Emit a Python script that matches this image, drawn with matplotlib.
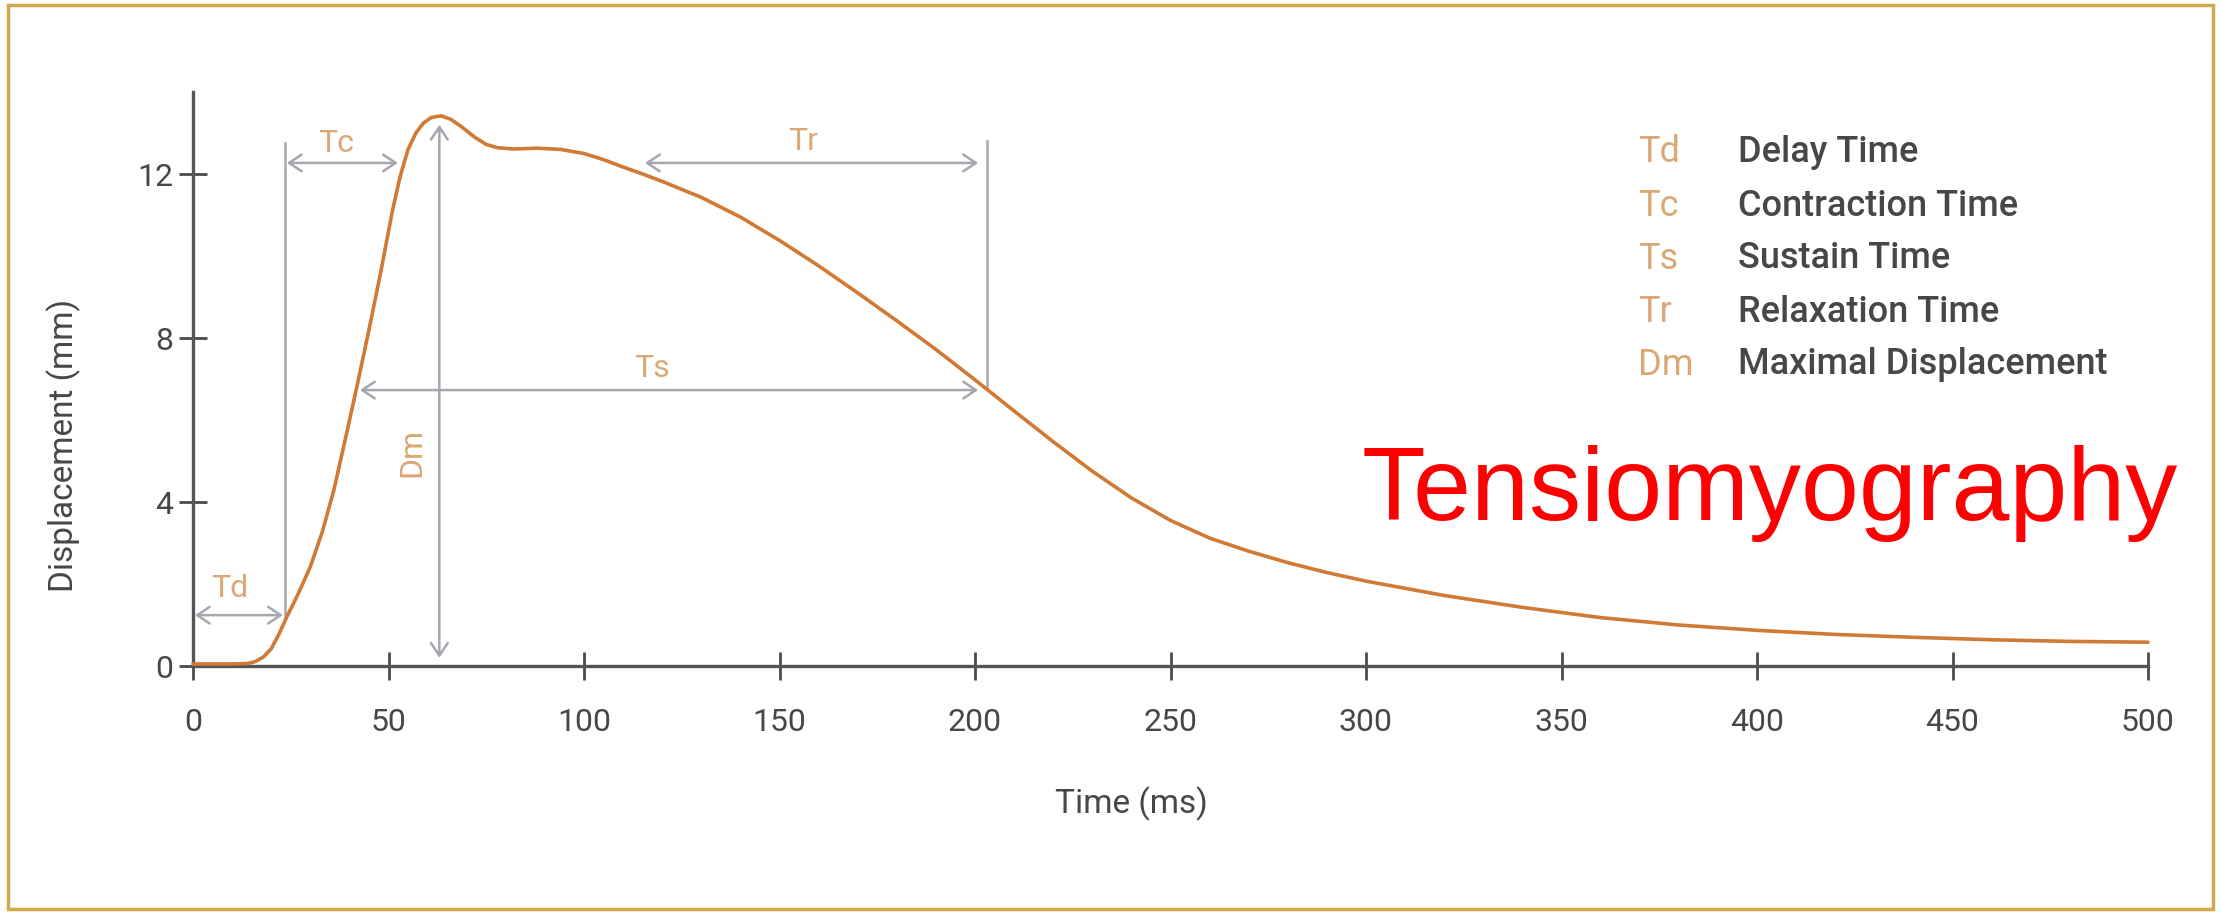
import numpy as np
import matplotlib.pyplot as plt
from matplotlib.patches import Rectangle

# displacement curve
time_ms = [0, 5, 10, 14, 16, 18, 20, 22, 24, 27, 30, 33, 36, 39, 42, 45, 48, 51, 53,
           55, 57, 59, 61, 63.5, 66, 69, 72, 75, 78, 82, 88, 94, 100, 105, 110, 115,
           120, 130, 140, 150, 160, 170, 180, 190, 200, 210, 220, 230, 240, 250, 260,
           270, 280, 290, 300, 320, 340, 360, 380, 400, 420, 440, 460, 480, 500]
disp_mm = [0.05, 0.05, 0.05, 0.06, 0.11, 0.22, 0.42, 0.78, 1.2, 1.78, 2.42, 3.25, 4.28,
           5.55, 6.85, 8.2, 9.6, 11.1, 11.95, 12.6, 13.0, 13.25, 13.38, 13.42, 13.33,
           13.13, 12.9, 12.72, 12.64, 12.61, 12.63, 12.6, 12.5, 12.35, 12.17, 12.0,
           11.82, 11.43, 10.95, 10.38, 9.76, 9.1, 8.42, 7.72, 6.98, 6.22, 5.47, 4.75,
           4.1, 3.55, 3.12, 2.8, 2.52, 2.28, 2.07, 1.72, 1.43, 1.18, 1.0, 0.87, 0.77,
           0.7, 0.64, 0.6, 0.58]

x_ticks = [0, 50, 100, 150, 200, 250, 300, 350, 400, 450, 500]
y_ticks = [0, 4, 8, 12]

# (label, start_t, end_t, level) horizontal arrows
h_arrows = [("Td", 0.5, 23.0, 1.24), ("Tc", 24.0, 52.4, 12.27),
            ("Ts", 42.7, 200.8, 6.73), ("Tr", 115.6, 200.8, 12.27)]
h_label_pos = [(9.5, 1.9), (36.6, 12.75), (117.4, 7.25), (156.0, 12.8)]
dm_t, dm_low, dm_high = 63.0, 0.2, 13.2
v_lines = [(23.5, 1.2, 12.75), (203.0, 6.8, 12.8)]

legend_abbr = ["Td", "Tc", "Ts", "Tr", "Dm"]
legend_desc = ["Delay Time", "Contraction Time", "Sustain Time", "Relaxation Time",
               "Maximal Displacement"]

W, H = 2221, 915
font = ["Roboto", "DejaVu Sans"]
grey = "#A4A8AE"
tan = "#D9A874"
dark = "#474747"

fig = plt.figure(figsize=(W / 100, H / 100), dpi=100)
fig.patch.set_facecolor("white")
ax = fig.add_axes([193 / W, 1 - 666 / H, 1955 / W, 574 / H])

ax.plot(time_ms, disp_mm, color="#D07A35", lw=2.6, clip_on=False, zorder=3,
        solid_capstyle="round", solid_joinstyle="round")

ax.set_xlim(0, 500)
ax.set_ylim(0, 14)
ax.set_xticks(x_ticks)
ax.set_yticks(y_ticks)
for s in ["top", "right"]:
    ax.spines[s].set_visible(False)
for s in ["left", "bottom"]:
    ax.spines[s].set_color("#555555")
    ax.spines[s].set_linewidth(2.4)
ax.tick_params(direction="inout", length=20, width=2, color="#4a4a4a",
               labelsize=23, labelcolor=dark)
ax.tick_params(axis="x", pad=20)
ax.tick_params(axis="y", pad=4)
for lab in ax.get_xticklabels() + ax.get_yticklabels():
    lab.set_family(font)

ax.set_xlabel("Time (ms)", fontsize=24, color=dark, family=font, va="center")
ax.xaxis.set_label_coords(0.48, -0.24)
ax.set_ylabel("Displacement (mm)", fontsize=24, color=dark, family=font, va="center")
ax.yaxis.set_label_coords(-0.066, 0.385)

arrow_style = "<->,head_length=0.45,head_width=0.3"
for (lab, t0, t1, lev), (tx, ty) in zip(h_arrows, h_label_pos):
    ax.annotate("", xy=(t0, lev), xytext=(t1, lev),
                arrowprops=dict(arrowstyle=arrow_style, color=grey, lw=1.8,
                                shrinkA=0, shrinkB=0, mutation_scale=20))
    ax.text(tx, ty, lab, color=tan, fontsize=23, family=font, ha="center", va="center")

ax.annotate("", xy=(dm_t, dm_low), xytext=(dm_t, dm_high),
            arrowprops=dict(arrowstyle=arrow_style, color=grey, lw=1.8,
                            shrinkA=0, shrinkB=0, mutation_scale=20))
ax.text(56.0, 5.2, "Dm", color=tan, fontsize=23, family=font, rotation=90,
        ha="center", va="center")

for t, lo, hi in v_lines:
    ax.plot([t, t], [lo, hi], color=grey, lw=1.8)

rows_y = [152, 206, 259, 312, 365]
for ab, desc, y in zip(legend_abbr, legend_desc, rows_y):
    fig.text(1638 / W, 1 - y / H, ab, color=tan, fontsize=26, family=font, va="center")
    fig.text(1738 / W, 1 - y / H, desc, color=dark, fontsize=26, family=font,
             va="center", fontweight="medium")

fig.text(1362 / W, 1 - 520 / H, "Tensiomyography", color="red", fontsize=75,
         family=["Liberation Sans", "DejaVu Sans"], va="baseline", ha="left")

fig.patches.append(Rectangle((8 / W, 1 - 909 / H), (2213 - 8) / W, (909 - 5) / H,
                             transform=fig.transFigure, fill=False,
                             edgecolor="#D2A74E", lw=2.5))

fig.savefig("out.png", dpi=100)
